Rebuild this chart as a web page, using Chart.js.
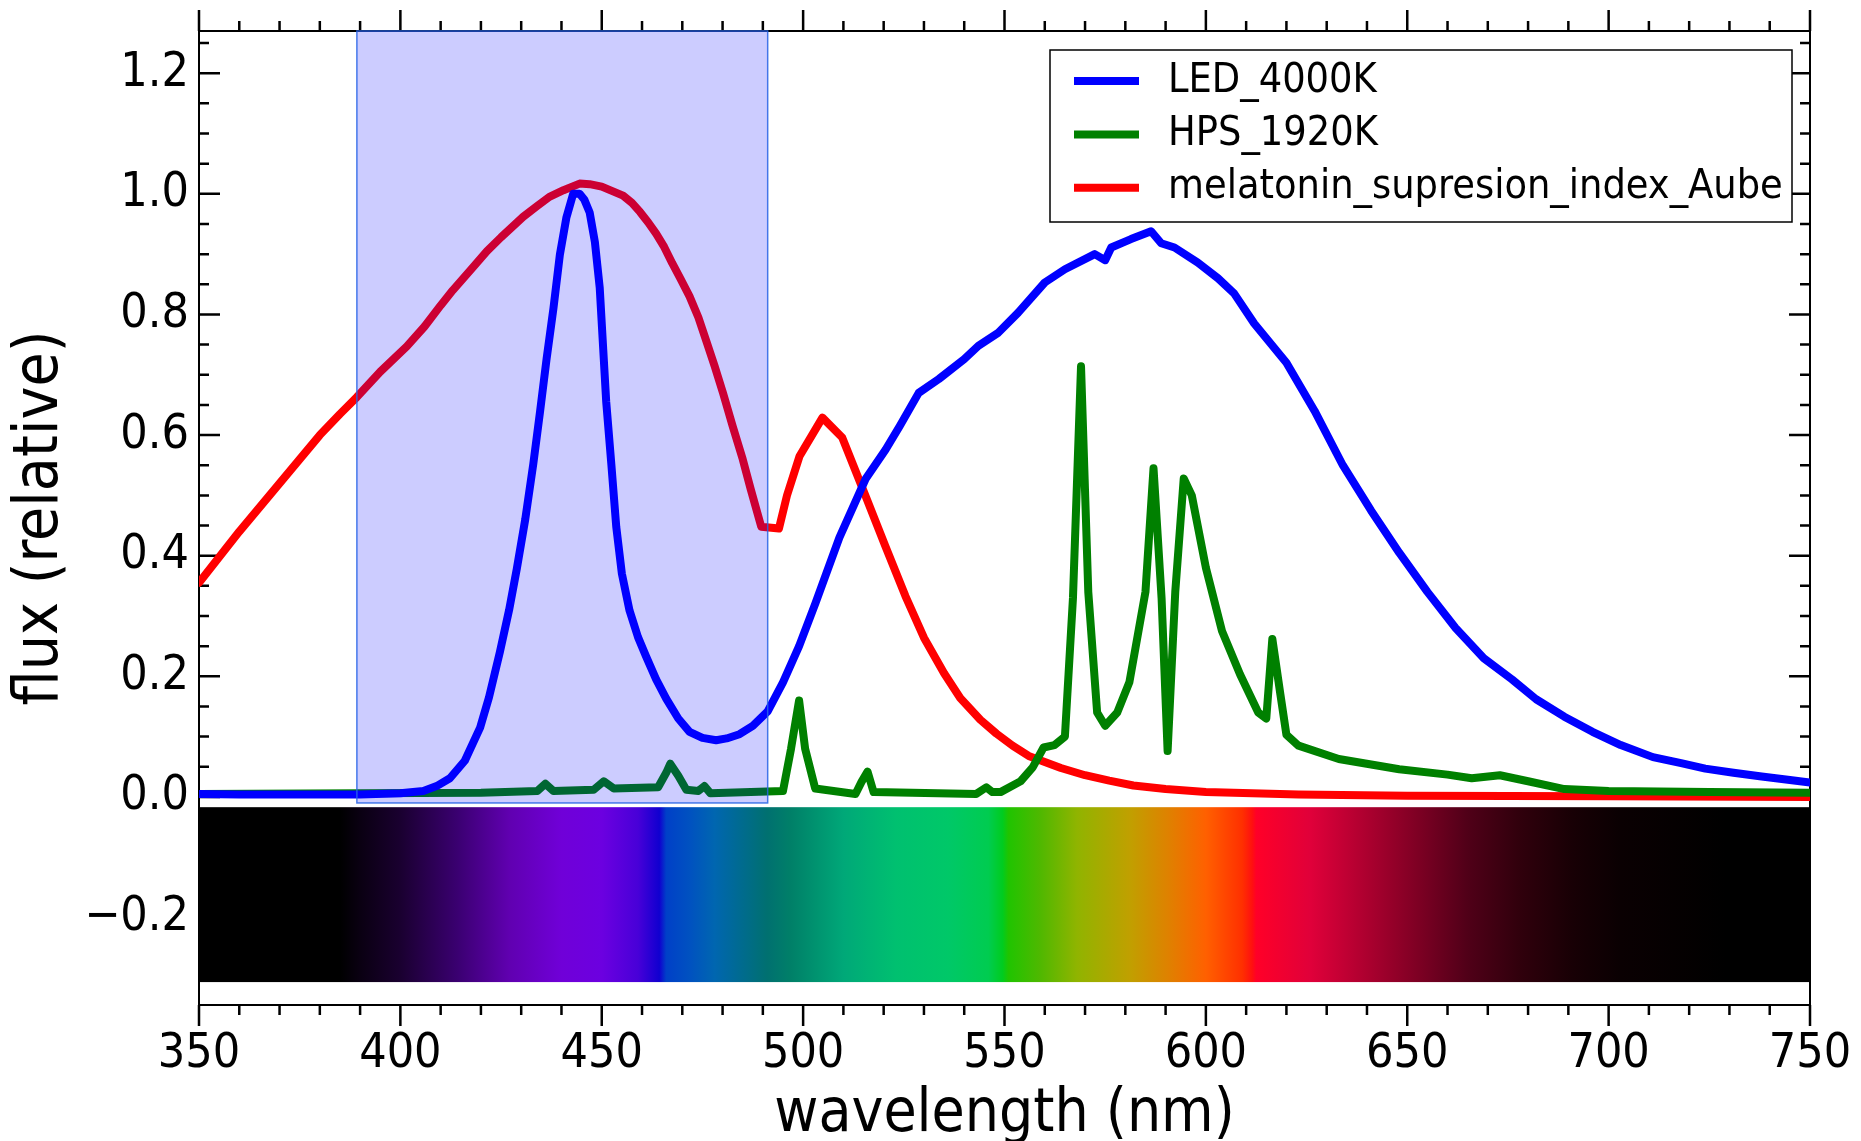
<!DOCTYPE html>
<html>
<head>
<meta charset="utf-8">
<script src="https://cdn.jsdelivr.net/npm/chart.js@4.4.1/dist/chart.umd.min.js"></script>
<style>
  html, body { margin: 0; padding: 0; background: #fff; }
</style>
</head>
<body>
<canvas id="spectrumChart" width="1861" height="1141"></canvas>
<script>
var FONT = '"DejaVu Sans Condensed", "DejaVu Sans", sans-serif';

// LED 4000K spectrum (relative flux)
var ledNm = [350, 360, 370, 380, 390, 400, 405.7, 409, 412.3, 416, 419.8, 422, 424.7, 427, 428.9, 431, 433, 434.7, 436.3, 438,
  439.6, 441.2, 442.9, 444.5, 445.7, 447, 448.3, 449.5, 450.3, 451.1, 452.4, 453.6, 455, 456.9, 459, 461, 463.5, 466, 469, 471.8,
  475, 478.4, 481, 484.2, 487.5, 491.2, 495, 499, 503, 509, 515.5, 520.5, 524, 528.7, 533.7, 540, 543.5, 548.5, 553.4, 560,
  565, 572.4, 575, 576.5, 581.4, 586.4, 588.9, 592.2, 598, 603, 607, 612, 620, 627, 634, 641, 648, 655, 662, 669,
  676, 682, 689, 696, 703, 711, 718, 724, 731, 738, 745, 750];
var ledFlux = [0.005, 0.004, 0.004, 0.004, 0.004, 0.006, 0.01, 0.018, 0.031, 0.06, 0.115, 0.165, 0.24, 0.31, 0.378, 0.46, 0.552, 0.64, 0.726, 0.81,
  0.899, 0.96, 1.0, 1.0, 0.99, 0.969, 0.92, 0.844, 0.75, 0.656, 0.55, 0.448, 0.37, 0.309, 0.265, 0.233, 0.195, 0.163, 0.13, 0.108,
  0.098, 0.094, 0.097, 0.104, 0.118, 0.142, 0.19, 0.25, 0.32, 0.43, 0.527, 0.576, 0.615, 0.67, 0.693, 0.726, 0.748, 0.77, 0.803, 0.853,
  0.875, 0.90, 0.89, 0.911, 0.925, 0.938, 0.918, 0.911, 0.886, 0.86, 0.835, 0.785, 0.72, 0.64, 0.55, 0.475, 0.405, 0.34, 0.28, 0.23,
  0.195, 0.162, 0.133, 0.108, 0.086, 0.066, 0.056, 0.047, 0.04, 0.034, 0.028, 0.024];

// HPS 1920K spectrum
var hpsNm = [350, 390, 420, 434, 436, 438, 448, 450.5, 453, 464, 466, 467, 469, 471, 474, 475.5, 477, 495, 497, 499,
  500.5, 503, 513, 514.5, 516, 517.5, 543, 545.5, 547, 549, 554, 557, 559.7, 562.4, 565, 567, 569, 570.8, 573, 575,
  578, 581, 585, 587, 589, 590.5, 592.4, 594.5, 596.5, 600, 604, 608.5, 613, 615, 616.5, 618.5, 620, 623, 633, 648,
  660, 666, 673, 680, 689, 700, 725, 750];
var hpsFlux = [0.005, 0.006, 0.007, 0.01, 0.022, 0.01, 0.012, 0.026, 0.014, 0.016, 0.04, 0.055, 0.035, 0.012, 0.01, 0.018, 0.006, 0.01, 0.08, 0.16,
  0.08, 0.014, 0.005, 0.025, 0.042, 0.008, 0.005, 0.016, 0.008, 0.008, 0.026, 0.049, 0.082, 0.086, 0.1, 0.33, 0.714, 0.34, 0.14, 0.118,
  0.14, 0.19, 0.34, 0.545, 0.33, 0.076, 0.34, 0.528, 0.50, 0.38, 0.275, 0.203, 0.14, 0.13, 0.262, 0.17, 0.103, 0.085, 0.063, 0.046,
  0.037, 0.031, 0.036, 0.026, 0.013, 0.01, 0.008, 0.007];

// melatonin suppression index (Aube)
var melNm = [350, 360, 370, 380, 385, 389.2, 395, 401.6, 406, 410, 413, 418, 421.5, 425, 430.5, 434, 437, 440.5, 444.5, 447,
  450, 452.5, 455.3, 457.5, 459.5, 461.5, 463.5, 465.5, 467.5, 469.5, 471.8, 474, 476, 478, 480.1, 482.5, 485, 487, 489.6, 494,
  496, 499.1, 504.8, 509.7, 515.5, 520.4, 525.4, 530, 535, 539, 544, 548, 552, 556, 564, 570, 576, 582, 590, 600,
  623, 650, 700, 750];
var melIndex = [0.355, 0.44, 0.52, 0.60, 0.635, 0.663, 0.705, 0.747, 0.78, 0.815, 0.84, 0.878, 0.905, 0.928, 0.962, 0.98, 0.995, 1.006, 1.017, 1.016,
  1.012, 1.005, 0.997, 0.985, 0.97, 0.953, 0.934, 0.912, 0.885, 0.86, 0.83, 0.795, 0.755, 0.715, 0.67, 0.615, 0.56, 0.51, 0.448, 0.445,
  0.50, 0.565, 0.629, 0.596, 0.499, 0.416, 0.333, 0.264, 0.205, 0.164, 0.128, 0.105, 0.085, 0.068, 0.048, 0.036, 0.027, 0.019, 0.013, 0.008,
  0.004, 0.002, 0.001, 0.0];

var seriesLabels = ['LED_4000K', 'HPS_1920K', 'melatonin_supresion_index_Aube'];
var seriesColors = ['#0000ff', '#008000', '#ff0000'];

// axis ticks
var xTicks = [350, 400, 450, 500, 550, 600, 650, 700, 750];
var yTicks = [-0.2, 0.0, 0.2, 0.4, 0.6, 0.8, 1.0, 1.2];

// highlighted band (nm) and colour strip
var bandNm = [389.2, 491.2];
var specNm = [350, 385, 390, 400, 414, 427, 440, 450, 459, 464.3, 466, 472, 478, 491, 497, 510, 523, 536, 546, 549.5,
  551, 559, 568, 581, 591, 600, 609, 611.5, 612.5, 626, 639, 652, 665, 678, 691, 703, 729, 750];
var specColor = ['#000000', '#000000', '#0a0012', '#1a0030', '#3a0070', '#6000b0', '#7000d8', '#6c00e0', '#4800d8', '#1000d0', '#0040c8', '#0052c0', '#0066b0', '#007070', '#008068', '#00a878', '#00c070', '#00c868', '#00cc50', '#00cc20',
  '#20c400', '#50b800', '#90b400', '#c0a000', '#e08000', '#ff6000', '#ff3000', '#ff1010', '#ff0028', '#e0003a', '#b00030', '#800024', '#500018', '#30000c', '#180005', '#0a0002', '#000000', '#000000'];

function toPoints(xs, ys) {
  return xs.map(function(x, i) { return {x: x, y: ys[i]}; });
}

var framePlugin = {
  id: 'frame',
  beforeDatasetsDraw: function(chart) {
    var ctx = chart.ctx, sx = chart.scales.x, sy = chart.scales.y, a = chart.chartArea;
    ctx.save();
    // colour strip under the zero line
    var x0 = sx.getPixelForValue(350), x1 = sx.getPixelForValue(750);
    var g = ctx.createLinearGradient(x0, 0, x1, 0);
    specNm.forEach(function(nm, i) { g.addColorStop((nm - 350) / 400, specColor[i]); });
    var yt = sy.getPixelForValue(-0.017), yb = sy.getPixelForValue(-0.307);
    ctx.fillStyle = g;
    ctx.fillRect(x0, yt, x1 - x0, yb - yt);

    // frame and tick marks
    ctx.strokeStyle = '#000';
    ctx.lineWidth = 2;
    ctx.strokeRect(a.left, a.top, a.right - a.left, a.bottom - a.top);
    ctx.lineWidth = 2.5;
    ctx.beginPath();
    for (var v = 350; v <= 750; v += 10) {
      var px = sx.getPixelForValue(v);
      var len = (v % 50 === 0) ? 21 : 10;
      ctx.moveTo(px, a.bottom); ctx.lineTo(px, a.bottom + len);
      ctx.moveTo(px, a.top); ctx.lineTo(px, a.top - len);
    }
    for (var k = 0; k <= 25; k++) {
      var py = sy.getPixelForValue(k * 0.05);
      var ylen = (k % 4 === 0) ? 21 : 10;
      ctx.moveTo(a.left, py); ctx.lineTo(a.left + ylen, py);
      ctx.moveTo(a.right, py); ctx.lineTo(a.right - ylen, py);
    }
    ctx.stroke();
    ctx.restore();
  },
  afterDatasetsDraw: function(chart) {
    var ctx = chart.ctx, sx = chart.scales.x, sy = chart.scales.y, a = chart.chartArea;
    var bx0 = sx.getPixelForValue(bandNm[0]), bx1 = sx.getPixelForValue(bandNm[1]);
    var by = sy.getPixelForValue(-0.01);
    ctx.save();
    ctx.fillStyle = 'rgba(0,0,255,0.2)';
    ctx.fillRect(bx0, a.top, bx1 - bx0, by - a.top);
    ctx.strokeStyle = 'rgba(40,100,230,0.85)';
    ctx.lineWidth = 1.5;
    ctx.strokeRect(bx0, a.top, bx1 - bx0, by - a.top);
    ctx.restore();
  },
  afterDraw: function(chart) {
    var ctx = chart.ctx;
    ctx.save();
    ctx.fillStyle = '#fff';
    ctx.fillRect(1050, 50, 742, 172);
    ctx.strokeStyle = '#000';
    ctx.lineWidth = 1.5;
    ctx.strokeRect(1050, 50, 742, 172);
    ctx.font = '41px ' + FONT;
    ctx.textBaseline = 'middle';
    ctx.fillStyle = '#000';
    chart.data.datasets.forEach(function(ds, i) {
      var y = 81 + i * 53.4;
      ctx.strokeStyle = ds.borderColor;
      ctx.lineWidth = 8;
      ctx.beginPath();
      ctx.moveTo(1074, y); ctx.lineTo(1139, y);
      ctx.stroke();
      ctx.fillText(ds.label, 1168, y);
    });
    ctx.restore();
  }
};

var ctx = document.getElementById('spectrumChart').getContext('2d');
var chart = new Chart(ctx, {
  type: 'line',
  data: {
    datasets: [
      {label: seriesLabels[0], data: toPoints(ledNm, ledFlux), borderColor: seriesColors[0]},
      {label: seriesLabels[1], data: toPoints(hpsNm, hpsFlux), borderColor: seriesColors[1]},
      {label: seriesLabels[2], data: toPoints(melNm, melIndex), borderColor: seriesColors[2]}
    ]
  },
  options: {
    responsive: false,
    animation: false,
    layout: {padding: {top: 31, right: 51, left: 0, bottom: 0}},
    elements: {
      point: {radius: 0},
      line: {borderWidth: 8, tension: 0, borderJoinStyle: 'round', borderCapStyle: 'round', fill: false}
    },
    plugins: {legend: {display: false}, tooltip: {enabled: false}},
    scales: {
      x: {
        type: 'linear',
        min: 350,
        max: 750,
        afterBuildTicks: function(s) { s.ticks = xTicks.map(function(v) { return {value: v}; }); },
        afterFit: function(s) { s.height = 136; s.paddingLeft = 0; s.paddingRight = 0; },
        grid: {display: false, drawTicks: false},
        border: {display: false},
        ticks: {color: '#000', font: {family: FONT, size: 48}, padding: 21, maxRotation: 0},
        title: {display: true, text: 'wavelength (nm)', color: '#000', font: {family: FONT, size: 60}, padding: {top: 0, bottom: -10}}
      },
      y: {
        type: 'linear',
        min: -0.345,
        max: 1.27,
        afterBuildTicks: function(s) { s.ticks = yTicks.map(function(v) { return {value: v}; }); },
        afterFit: function(s) { s.width = 199; s.paddingTop = 0; s.paddingBottom = 0; },
        grid: {display: false, drawTicks: false},
        border: {display: false},
        ticks: {
          color: '#000', font: {family: FONT, size: 48}, padding: 10,
          callback: function(v) { return (v < -1e-9 ? '\u2212' : '') + Math.abs(v).toFixed(1); }
        },
        title: {display: true, text: 'flux (relative)', color: '#000', font: {family: FONT, size: 62}, padding: {top: 4, bottom: 0}}
      }
    }
  },
  plugins: [framePlugin]
});
</script>
</body>
</html>
